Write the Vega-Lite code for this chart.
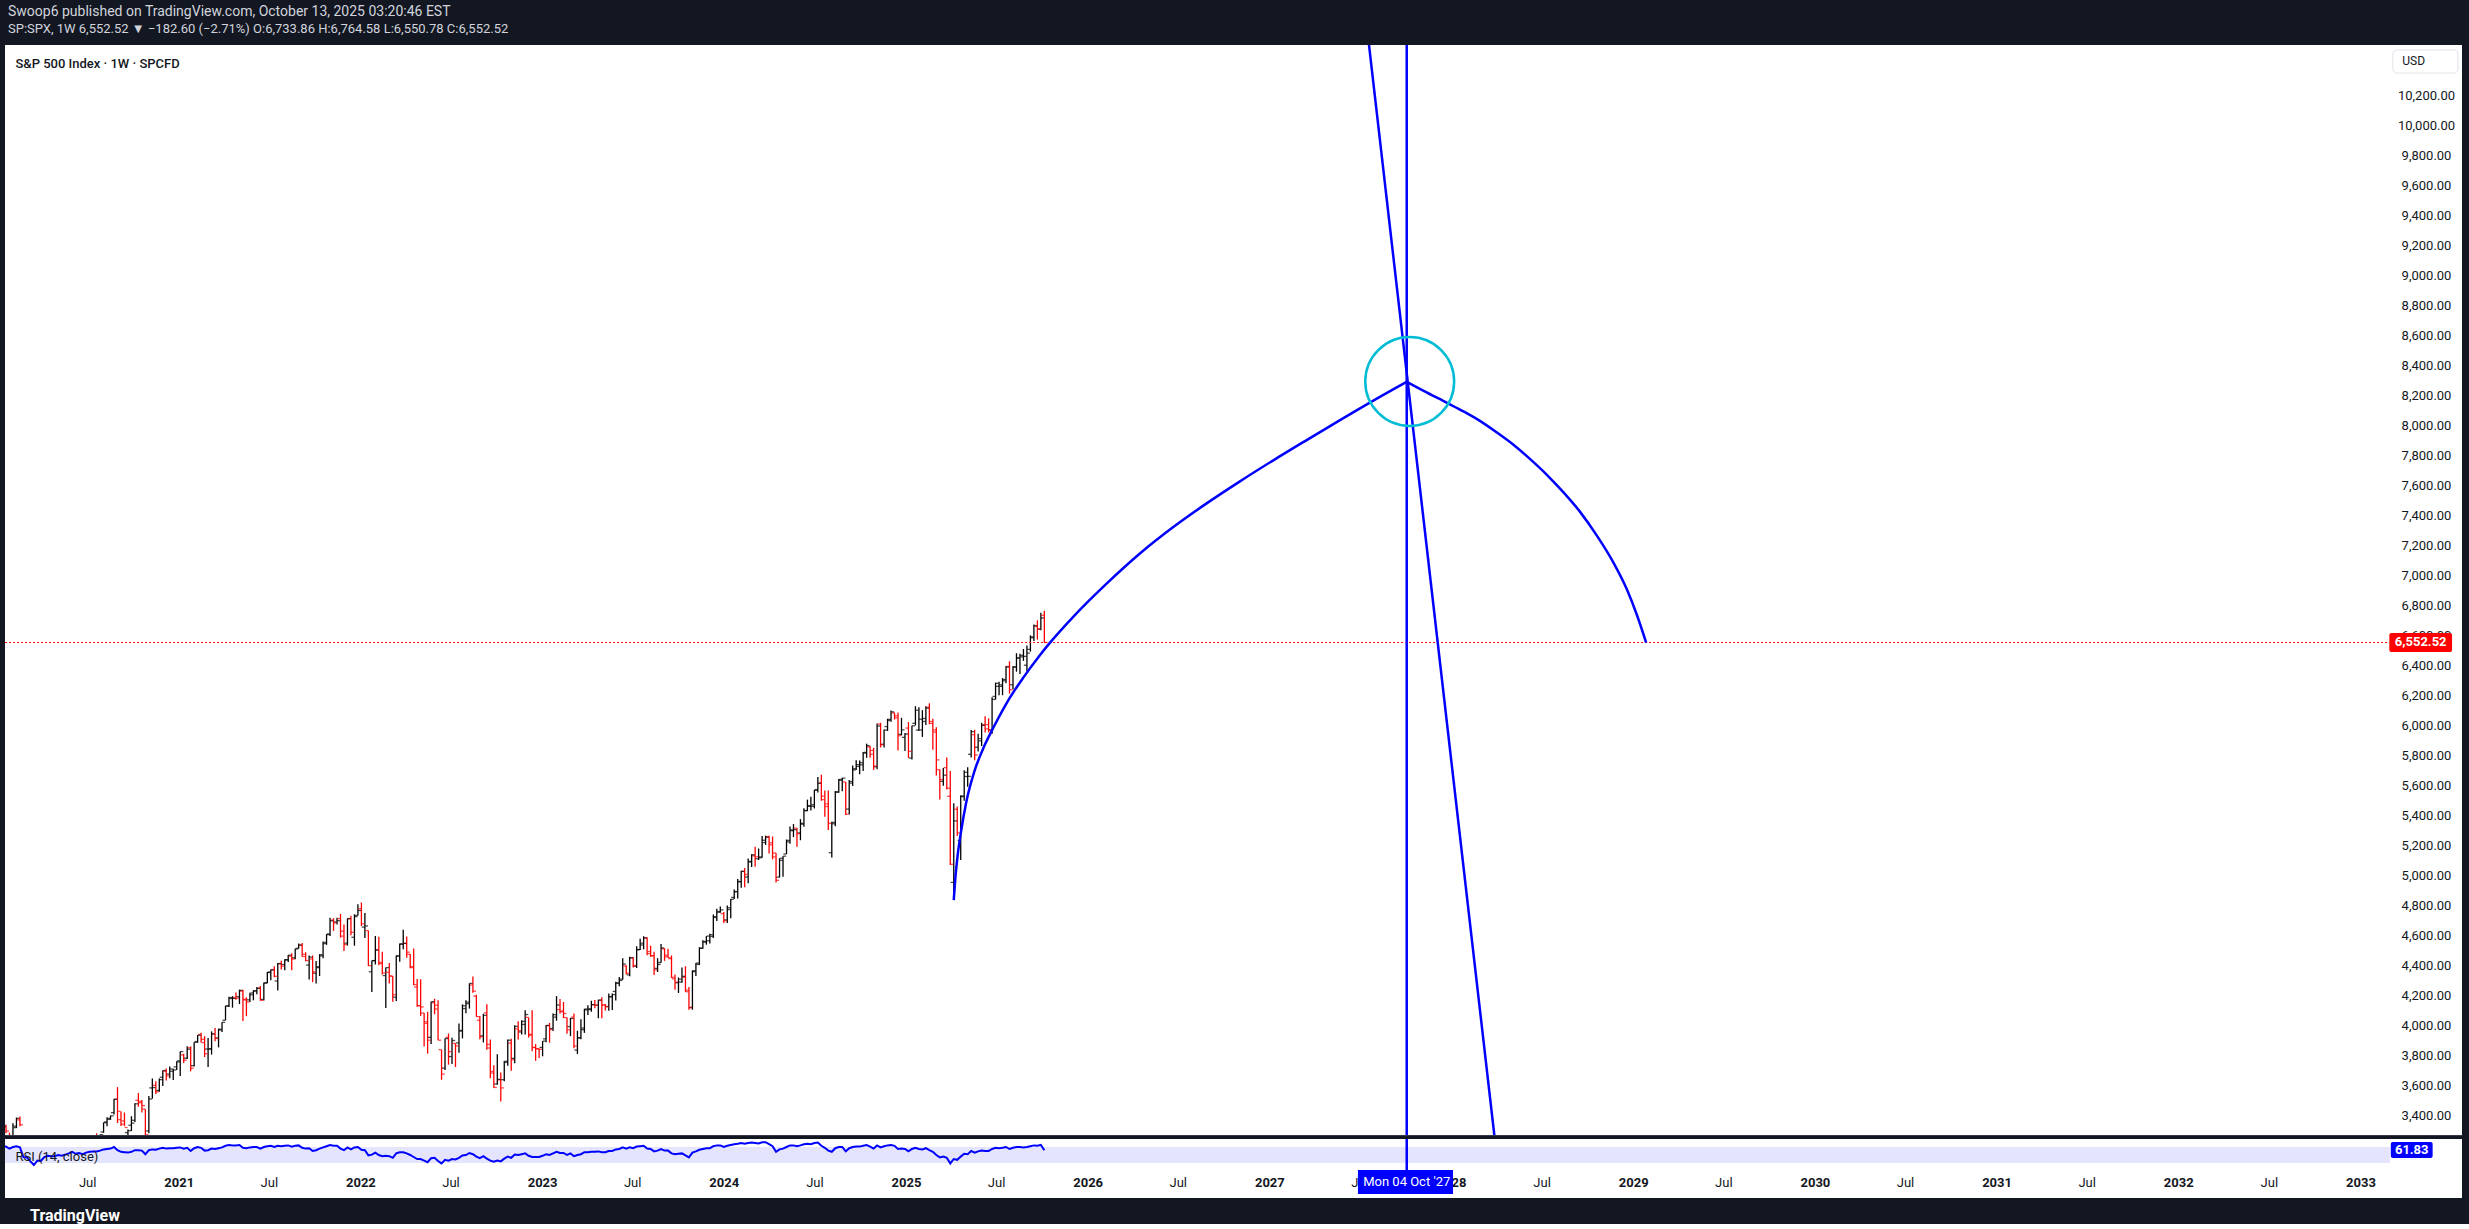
{
"$schema": "https://vega.github.io/schema/vega-lite/v6.json",
"background": "#131722",
"padding": {"left": 5, "right": 7, "top": 4, "bottom": 0},
"spacing": 0,
"title": {"text": "Swoop6 published on TradingView.com, October 13, 2025 03:20:46 EST", "subtitle": "SP:SPX, 1W 6,552.52 ▼ −182.60 (−2.71%) O:6,733.86 H:6,764.58 L:6,550.78 C:6,552.52", "anchor": "start", "frame": "group", "dx": 3, "fontSize": 14, "fontWeight": "normal", "color": "#d1d4dc", "subtitleFontSize": 13, "subtitleColor": "#d1d4dc", "subtitlePadding": 4, "offset": 8},
"datasets": {
"bars": [
{"d":"2020-01-06","o":3217,"h":3267,"l":3181,"c":3265,"r":70},
{"d":"2020-01-13","o":3271,"h":3329,"l":3264,"c":3329,"r":73},
{"d":"2020-01-20","o":3321,"h":3337,"l":3280,"c":3295,"r":71},
{"d":"2020-01-27","o":3248,"h":3285,"l":3214,"c":3225,"r":66},
{"d":"2020-02-03","o":3235,"h":3347,"l":3223,"c":3328,"r":70},
{"d":"2020-02-10","o":3318,"h":3385,"l":3315,"c":3380,"r":72},
{"d":"2020-02-17","o":3370,"h":3393,"l":3328,"c":3337,"r":69},
{"d":"2020-02-24","o":3257,"h":3259,"l":2855,"c":2954,"r":45},
{"d":"2020-03-02","o":2974,"h":3136,"l":2947,"c":2972,"r":44},
{"d":"2020-03-09","o":2863,"h":2882,"l":2478,"c":2711,"r":34},
{"d":"2020-03-16","o":2509,"h":2562,"l":2280,"c":2305,"r":25},
{"d":"2020-03-23","o":2291,"h":2637,"l":2192,"c":2541,"r":36},
{"d":"2020-03-30","o":2498,"h":2641,"l":2447,"c":2489,"r":35},
{"d":"2020-04-06","o":2578,"h":2819,"l":2575,"c":2790,"r":45},
{"d":"2020-04-13","o":2782,"h":2880,"l":2761,"c":2875,"r":48},
{"d":"2020-04-20","o":2846,"h":2868,"l":2727,"c":2837,"r":47},
{"d":"2020-04-27","o":2855,"h":2965,"l":2822,"c":2831,"r":47},
{"d":"2020-05-04","o":2815,"h":2930,"l":2798,"c":2930,"r":50},
{"d":"2020-05-11","o":2939,"h":2945,"l":2766,"c":2864,"r":48},
{"d":"2020-05-18","o":2913,"h":2980,"l":2912,"c":2955,"r":51},
{"d":"2020-05-25","o":3005,"h":3068,"l":2997,"c":3044,"r":54},
{"d":"2020-06-01","o":3038,"h":3211,"l":3031,"c":3194,"r":58},
{"d":"2020-06-08","o":3199,"h":3233,"l":2984,"c":3041,"r":53},
{"d":"2020-06-15","o":2994,"h":3155,"l":2966,"c":3098,"r":55},
{"d":"2020-06-22","o":3094,"h":3155,"l":3004,"c":3009,"r":52},
{"d":"2020-06-29","o":3018,"h":3165,"l":3000,"c":3130,"r":56},
{"d":"2020-07-06","o":3155,"h":3186,"l":3101,"c":3185,"r":58},
{"d":"2020-07-13","o":3205,"h":3236,"l":3127,"c":3225,"r":59},
{"d":"2020-07-20","o":3225,"h":3280,"l":3201,"c":3216,"r":59},
{"d":"2020-07-27","o":3219,"h":3272,"l":3204,"c":3271,"r":61},
{"d":"2020-08-03","o":3289,"h":3352,"l":3284,"c":3351,"r":64},
{"d":"2020-08-10","o":3356,"h":3387,"l":3327,"c":3373,"r":65},
{"d":"2020-08-17","o":3380,"h":3399,"l":3370,"c":3397,"r":66},
{"d":"2020-08-24","o":3418,"h":3509,"l":3405,"c":3508,"r":70},
{"d":"2020-08-31","o":3507,"h":3588,"l":3349,"c":3427,"r":62},
{"d":"2020-09-07","o":3371,"h":3425,"l":3329,"c":3341,"r":58},
{"d":"2020-09-14","o":3363,"h":3419,"l":3328,"c":3319,"r":57},
{"d":"2020-09-21","o":3285,"h":3306,"l":3209,"c":3298,"r":56},
{"d":"2020-09-28","o":3334,"h":3394,"l":3296,"c":3348,"r":58},
{"d":"2020-10-05","o":3367,"h":3480,"l":3355,"c":3477,"r":62},
{"d":"2020-10-12","o":3500,"h":3549,"l":3458,"c":3484,"r":62},
{"d":"2020-10-19","o":3493,"h":3502,"l":3419,"c":3465,"r":61},
{"d":"2020-10-26","o":3441,"h":3441,"l":3234,"c":3270,"r":52},
{"d":"2020-11-02","o":3296,"h":3529,"l":3280,"c":3509,"r":62},
{"d":"2020-11-09","o":3583,"h":3646,"l":3511,"c":3585,"r":64},
{"d":"2020-11-16","o":3600,"h":3628,"l":3543,"c":3557,"r":63},
{"d":"2020-11-23","o":3566,"h":3645,"l":3558,"c":3638,"r":66},
{"d":"2020-11-30","o":3654,"h":3699,"l":3595,"c":3699,"r":68},
{"d":"2020-12-07","o":3694,"h":3712,"l":3633,"c":3663,"r":66},
{"d":"2020-12-14","o":3675,"h":3726,"l":3648,"c":3709,"r":67},
{"d":"2020-12-21","o":3694,"h":3711,"l":3636,"c":3703,"r":67},
{"d":"2020-12-28","o":3723,"h":3760,"l":3703,"c":3756,"r":68},
{"d":"2021-01-04","o":3764,"h":3826,"l":3663,"c":3825,"r":69},
{"d":"2021-01-11","o":3803,"h":3811,"l":3749,"c":3768,"r":66},
{"d":"2021-01-18","o":3781,"h":3861,"l":3775,"c":3841,"r":68},
{"d":"2021-01-25","o":3851,"h":3859,"l":3694,"c":3714,"r":60},
{"d":"2021-02-01","o":3731,"h":3887,"l":3725,"c":3887,"r":67},
{"d":"2021-02-08","o":3892,"h":3935,"l":3884,"c":3934,"r":70},
{"d":"2021-02-15","o":3939,"h":3950,"l":3885,"c":3907,"r":68},
{"d":"2021-02-22","o":3885,"h":3928,"l":3789,"c":3811,"r":61},
{"d":"2021-03-01","o":3842,"h":3915,"l":3723,"c":3842,"r":62},
{"d":"2021-03-08","o":3844,"h":3960,"l":3805,"c":3943,"r":66},
{"d":"2021-03-15","o":3942,"h":3983,"l":3894,"c":3913,"r":65},
{"d":"2021-03-22","o":3916,"h":3978,"l":3853,"c":3974,"r":67},
{"d":"2021-03-29","o":3969,"h":4020,"l":3955,"c":4020,"r":69},
{"d":"2021-04-05","o":4034,"h":4130,"l":4034,"c":4129,"r":73},
{"d":"2021-04-12","o":4130,"h":4191,"l":4123,"c":4185,"r":75},
{"d":"2021-04-19","o":4179,"h":4195,"l":4118,"c":4180,"r":74},
{"d":"2021-04-26","o":4185,"h":4219,"l":4170,"c":4181,"r":74},
{"d":"2021-05-03","o":4191,"h":4238,"l":4142,"c":4233,"r":75},
{"d":"2021-05-10","o":4228,"h":4237,"l":4029,"c":4174,"r":68},
{"d":"2021-05-17","o":4169,"h":4187,"l":4061,"c":4156,"r":67},
{"d":"2021-05-24","o":4170,"h":4218,"l":4155,"c":4204,"r":69},
{"d":"2021-05-31","o":4216,"h":4234,"l":4167,"c":4230,"r":70},
{"d":"2021-06-07","o":4229,"h":4255,"l":4207,"c":4247,"r":70},
{"d":"2021-06-14","o":4248,"h":4262,"l":4164,"c":4166,"r":66},
{"d":"2021-06-21","o":4173,"h":4286,"l":4165,"c":4281,"r":70},
{"d":"2021-06-28","o":4284,"h":4356,"l":4280,"c":4352,"r":72},
{"d":"2021-07-05","o":4356,"h":4372,"l":4300,"c":4369,"r":73},
{"d":"2021-07-12","o":4372,"h":4394,"l":4321,"c":4327,"r":70},
{"d":"2021-07-19","o":4296,"h":4415,"l":4233,"c":4412,"r":73},
{"d":"2021-07-26","o":4410,"h":4430,"l":4372,"c":4395,"r":72},
{"d":"2021-08-02","o":4406,"h":4440,"l":4367,"c":4437,"r":73},
{"d":"2021-08-09","o":4437,"h":4469,"l":4423,"c":4468,"r":74},
{"d":"2021-08-16","o":4461,"h":4480,"l":4367,"c":4442,"r":71},
{"d":"2021-08-23","o":4450,"h":4510,"l":4441,"c":4509,"r":73},
{"d":"2021-08-30","o":4514,"h":4545,"l":4513,"c":4535,"r":74},
{"d":"2021-09-06","o":4535,"h":4549,"l":4458,"c":4459,"r":68},
{"d":"2021-09-13","o":4474,"h":4487,"l":4428,"c":4432,"r":66},
{"d":"2021-09-20","o":4402,"h":4465,"l":4305,"c":4455,"r":67},
{"d":"2021-09-27","o":4442,"h":4466,"l":4288,"c":4357,"r":60},
{"d":"2021-10-04","o":4348,"h":4429,"l":4279,"c":4391,"r":62},
{"d":"2021-10-11","o":4385,"h":4475,"l":4329,"c":4471,"r":66},
{"d":"2021-10-18","o":4463,"h":4559,"l":4448,"c":4545,"r":69},
{"d":"2021-10-25","o":4553,"h":4608,"l":4537,"c":4605,"r":72},
{"d":"2021-11-01","o":4610,"h":4718,"l":4595,"c":4697,"r":75},
{"d":"2021-11-08","o":4702,"h":4714,"l":4630,"c":4683,"r":73},
{"d":"2021-11-15","o":4689,"h":4718,"l":4672,"c":4698,"r":73},
{"d":"2021-11-22","o":4712,"h":4743,"l":4585,"c":4595,"r":66},
{"d":"2021-11-29","o":4628,"h":4672,"l":4495,"c":4538,"r":62},
{"d":"2021-12-06","o":4548,"h":4713,"l":4532,"c":4712,"r":69},
{"d":"2021-12-13","o":4710,"h":4731,"l":4600,"c":4620,"r":64},
{"d":"2021-12-20","o":4587,"h":4740,"l":4531,"c":4725,"r":69},
{"d":"2021-12-27","o":4733,"h":4808,"l":4733,"c":4766,"r":70},
{"d":"2022-01-03","o":4778,"h":4819,"l":4662,"c":4677,"r":63},
{"d":"2022-01-10","o":4655,"h":4749,"l":4582,"c":4663,"r":62},
{"d":"2022-01-17","o":4632,"h":4632,"l":4395,"c":4398,"r":49},
{"d":"2022-01-24","o":4357,"h":4432,"l":4223,"c":4432,"r":51},
{"d":"2022-01-31","o":4431,"h":4595,"l":4405,"c":4501,"r":56},
{"d":"2022-02-07","o":4505,"h":4590,"l":4401,"c":4419,"r":50},
{"d":"2022-02-14","o":4412,"h":4490,"l":4339,"c":4349,"r":47},
{"d":"2022-02-21","o":4332,"h":4385,"l":4115,"c":4385,"r":48},
{"d":"2022-02-28","o":4354,"h":4416,"l":4279,"c":4329,"r":47},
{"d":"2022-03-07","o":4328,"h":4329,"l":4157,"c":4204,"r":43},
{"d":"2022-03-14","o":4188,"h":4465,"l":4162,"c":4463,"r":54},
{"d":"2022-03-21","o":4462,"h":4546,"l":4424,"c":4543,"r":57},
{"d":"2022-03-28","o":4541,"h":4637,"l":4507,"c":4546,"r":57},
{"d":"2022-04-04","o":4547,"h":4593,"l":4450,"c":4488,"r":54},
{"d":"2022-04-11","o":4474,"h":4475,"l":4381,"c":4392,"r":50},
{"d":"2022-04-18","o":4385,"h":4512,"l":4267,"c":4272,"r":45},
{"d":"2022-04-25","o":4256,"h":4309,"l":4124,"c":4132,"r":40},
{"d":"2022-05-02","o":4131,"h":4307,"l":4063,"c":4123,"r":40},
{"d":"2022-05-09","o":4082,"h":4082,"l":3859,"c":4024,"r":36},
{"d":"2022-05-16","o":4013,"h":4090,"l":3811,"c":3901,"r":32},
{"d":"2022-05-23","o":3920,"h":4158,"l":3875,"c":4158,"r":42},
{"d":"2022-05-30","o":4151,"h":4177,"l":4074,"c":4109,"r":43},
{"d":"2022-06-06","o":4134,"h":4168,"l":3900,"c":3901,"r":35},
{"d":"2022-06-13","o":3838,"h":3838,"l":3637,"c":3675,"r":29},
{"d":"2022-06-20","o":3715,"h":3913,"l":3703,"c":3912,"r":38},
{"d":"2022-06-27","o":3920,"h":3946,"l":3738,"c":3825,"r":36},
{"d":"2022-07-04","o":3792,"h":3918,"l":3743,"c":3899,"r":40},
{"d":"2022-07-11","o":3880,"h":3880,"l":3722,"c":3863,"r":39},
{"d":"2022-07-18","o":3883,"h":4012,"l":3818,"c":3962,"r":43},
{"d":"2022-07-25","o":3966,"h":4140,"l":3913,"c":4130,"r":49},
{"d":"2022-08-01","o":4112,"h":4167,"l":4080,"c":4145,"r":50},
{"d":"2022-08-08","o":4155,"h":4280,"l":4112,"c":4280,"r":55},
{"d":"2022-08-15","o":4269,"h":4325,"l":4218,"c":4228,"r":52},
{"d":"2022-08-22","o":4195,"h":4204,"l":4057,"c":4058,"r":46},
{"d":"2022-08-29","o":4034,"h":4062,"l":3907,"c":3924,"r":42},
{"d":"2022-09-05","o":3930,"h":4077,"l":3886,"c":4067,"r":47},
{"d":"2022-09-12","o":4083,"h":4140,"l":3837,"c":3873,"r":41},
{"d":"2022-09-19","o":3849,"h":3906,"l":3647,"c":3693,"r":36},
{"d":"2022-09-26","o":3682,"h":3734,"l":3584,"c":3586,"r":33},
{"d":"2022-10-03","o":3609,"h":3807,"l":3604,"c":3640,"r":36},
{"d":"2022-10-10","o":3636,"h":3686,"l":3492,"c":3583,"r":34},
{"d":"2022-10-17","o":3638,"h":3762,"l":3627,"c":3753,"r":41},
{"d":"2022-10-24","o":3761,"h":3905,"l":3730,"c":3901,"r":46},
{"d":"2022-10-31","o":3882,"h":3911,"l":3698,"c":3771,"r":43},
{"d":"2022-11-07","o":3780,"h":4001,"l":3748,"c":3993,"r":51},
{"d":"2022-11-14","o":3977,"h":4028,"l":3906,"c":3965,"r":50},
{"d":"2022-11-21","o":3956,"h":4034,"l":3939,"c":4026,"r":52},
{"d":"2022-11-28","o":4006,"h":4101,"l":3939,"c":4072,"r":54},
{"d":"2022-12-05","o":4053,"h":4053,"l":3919,"c":3934,"r":48},
{"d":"2022-12-12","o":3940,"h":4101,"l":3827,"c":3852,"r":45},
{"d":"2022-12-19","o":3853,"h":3876,"l":3764,"c":3845,"r":45},
{"d":"2022-12-26","o":3843,"h":3846,"l":3783,"c":3840,"r":45},
{"d":"2023-01-02","o":3853,"h":3895,"l":3794,"c":3895,"r":48},
{"d":"2023-01-09","o":3910,"h":4003,"l":3888,"c":3999,"r":52},
{"d":"2023-01-16","o":3999,"h":4016,"l":3885,"c":3972,"r":50},
{"d":"2023-01-23","o":3979,"h":4079,"l":3963,"c":4071,"r":54},
{"d":"2023-01-30","o":4055,"h":4195,"l":4031,"c":4136,"r":58},
{"d":"2023-02-06","o":4105,"h":4176,"l":4079,"c":4090,"r":55},
{"d":"2023-02-13","o":4096,"h":4156,"l":4048,"c":4079,"r":55},
{"d":"2023-02-20","o":4052,"h":4053,"l":3944,"c":3970,"r":50},
{"d":"2023-02-27","o":3992,"h":4049,"l":3928,"c":4046,"r":54},
{"d":"2023-03-06","o":4055,"h":4079,"l":3847,"c":3862,"r":47},
{"d":"2023-03-13","o":3835,"h":3964,"l":3809,"c":3917,"r":50},
{"d":"2023-03-20","o":3917,"h":4040,"l":3908,"c":3971,"r":52},
{"d":"2023-03-27","o":3982,"h":4110,"l":3950,"c":4109,"r":57},
{"d":"2023-04-03","o":4103,"h":4134,"l":4069,"c":4105,"r":57},
{"d":"2023-04-10","o":4111,"h":4164,"l":4091,"c":4138,"r":58},
{"d":"2023-04-17","o":4137,"h":4169,"l":4114,"c":4134,"r":58},
{"d":"2023-04-24","o":4135,"h":4170,"l":4048,"c":4169,"r":59},
{"d":"2023-05-01","o":4166,"h":4187,"l":4048,"c":4136,"r":57},
{"d":"2023-05-08","o":4136,"h":4143,"l":4099,"c":4124,"r":57},
{"d":"2023-05-15","o":4126,"h":4212,"l":4098,"c":4192,"r":60},
{"d":"2023-05-22","o":4190,"h":4212,"l":4103,"c":4205,"r":60},
{"d":"2023-05-29","o":4226,"h":4291,"l":4166,"c":4282,"r":64},
{"d":"2023-06-05","o":4282,"h":4322,"l":4260,"c":4299,"r":65},
{"d":"2023-06-12","o":4308,"h":4448,"l":4304,"c":4409,"r":69},
{"d":"2023-06-19","o":4396,"h":4400,"l":4341,"c":4348,"r":66},
{"d":"2023-06-26","o":4337,"h":4458,"l":4328,"c":4450,"r":69},
{"d":"2023-07-03","o":4450,"h":4456,"l":4385,"c":4399,"r":67},
{"d":"2023-07-10","o":4394,"h":4528,"l":4383,"c":4505,"r":71},
{"d":"2023-07-17","o":4505,"h":4578,"l":4503,"c":4536,"r":72},
{"d":"2023-07-24","o":4548,"h":4594,"l":4507,"c":4582,"r":73},
{"d":"2023-07-31","o":4584,"h":4588,"l":4467,"c":4478,"r":66},
{"d":"2023-08-07","o":4492,"h":4531,"l":4457,"c":4464,"r":65},
{"d":"2023-08-14","o":4464,"h":4491,"l":4335,"c":4370,"r":59},
{"d":"2023-08-21","o":4380,"h":4448,"l":4356,"c":4406,"r":61},
{"d":"2023-08-28","o":4419,"h":4542,"l":4418,"c":4516,"r":65},
{"d":"2023-09-04","o":4510,"h":4514,"l":4430,"c":4457,"r":61},
{"d":"2023-09-11","o":4468,"h":4511,"l":4449,"c":4450,"r":61},
{"d":"2023-09-18","o":4445,"h":4466,"l":4316,"c":4320,"r":54},
{"d":"2023-09-25","o":4310,"h":4339,"l":4238,"c":4288,"r":52},
{"d":"2023-10-02","o":4284,"h":4319,"l":4216,"c":4308,"r":53},
{"d":"2023-10-09","o":4289,"h":4385,"l":4284,"c":4327,"r":54},
{"d":"2023-10-16","o":4320,"h":4394,"l":4223,"c":4224,"r":49},
{"d":"2023-10-23","o":4235,"h":4256,"l":4104,"c":4117,"r":44},
{"d":"2023-10-30","o":4120,"h":4367,"l":4104,"c":4358,"r":56},
{"d":"2023-11-06","o":4364,"h":4415,"l":4329,"c":4415,"r":59},
{"d":"2023-11-13","o":4406,"h":4521,"l":4403,"c":4514,"r":63},
{"d":"2023-11-20","o":4514,"h":4568,"l":4510,"c":4559,"r":65},
{"d":"2023-11-27","o":4555,"h":4595,"l":4538,"c":4595,"r":67},
{"d":"2023-12-04","o":4564,"h":4610,"l":4546,"c":4604,"r":67},
{"d":"2023-12-11","o":4593,"h":4739,"l":4582,"c":4719,"r":72},
{"d":"2023-12-18","o":4725,"h":4778,"l":4696,"c":4754,"r":74},
{"d":"2023-12-25","o":4759,"h":4793,"l":4751,"c":4770,"r":74},
{"d":"2024-01-01","o":4745,"h":4755,"l":4682,"c":4697,"r":70},
{"d":"2024-01-08","o":4703,"h":4799,"l":4682,"c":4784,"r":73},
{"d":"2024-01-15","o":4772,"h":4842,"l":4714,"c":4840,"r":75},
{"d":"2024-01-22","o":4853,"h":4906,"l":4842,"c":4891,"r":77},
{"d":"2024-01-29","o":4892,"h":4975,"l":4845,"c":4959,"r":78},
{"d":"2024-02-05","o":4957,"h":5030,"l":4918,"c":5027,"r":80},
{"d":"2024-02-12","o":5026,"h":5049,"l":4920,"c":5006,"r":78},
{"d":"2024-02-19","o":4989,"h":5112,"l":4947,"c":5089,"r":80},
{"d":"2024-02-26","o":5093,"h":5141,"l":5056,"c":5137,"r":81},
{"d":"2024-03-04","o":5130,"h":5190,"l":5057,"c":5124,"r":80},
{"d":"2024-03-11","o":5111,"h":5179,"l":5102,"c":5117,"r":79},
{"d":"2024-03-18","o":5123,"h":5262,"l":5117,"c":5234,"r":82},
{"d":"2024-03-25","o":5219,"h":5265,"l":5203,"c":5254,"r":82},
{"d":"2024-04-01","o":5258,"h":5264,"l":5146,"c":5204,"r":77},
{"d":"2024-04-08","o":5217,"h":5259,"l":5107,"c":5123,"r":72},
{"d":"2024-04-15","o":5149,"h":5149,"l":4953,"c":4967,"r":58},
{"d":"2024-04-22","o":4988,"h":5114,"l":4986,"c":5100,"r":64},
{"d":"2024-04-29","o":5114,"h":5128,"l":4990,"c":5128,"r":66},
{"d":"2024-05-06","o":5142,"h":5239,"l":5142,"c":5223,"r":70},
{"d":"2024-05-13","o":5233,"h":5325,"l":5211,"c":5303,"r":74},
{"d":"2024-05-20","o":5298,"h":5342,"l":5256,"c":5305,"r":74},
{"d":"2024-05-27","o":5315,"h":5315,"l":5191,"c":5278,"r":72},
{"d":"2024-06-03","o":5283,"h":5375,"l":5234,"c":5347,"r":74},
{"d":"2024-06-10","o":5341,"h":5447,"l":5324,"c":5432,"r":77},
{"d":"2024-06-17","o":5432,"h":5505,"l":5428,"c":5465,"r":78},
{"d":"2024-06-24","o":5460,"h":5524,"l":5433,"c":5460,"r":77},
{"d":"2024-07-01","o":5471,"h":5570,"l":5446,"c":5567,"r":80},
{"d":"2024-07-08","o":5572,"h":5655,"l":5552,"c":5615,"r":81},
{"d":"2024-07-15","o":5614,"h":5670,"l":5497,"c":5505,"r":73},
{"d":"2024-07-22","o":5528,"h":5566,"l":5390,"c":5459,"r":68},
{"d":"2024-07-29","o":5476,"h":5566,"l":5302,"c":5347,"r":61},
{"d":"2024-08-05","o":5151,"h":5358,"l":5119,"c":5344,"r":58},
{"d":"2024-08-12","o":5353,"h":5563,"l":5328,"c":5554,"r":67},
{"d":"2024-08-19","o":5557,"h":5643,"l":5550,"c":5634,"r":70},
{"d":"2024-08-26","o":5640,"h":5651,"l":5560,"c":5648,"r":70},
{"d":"2024-09-02","o":5623,"h":5623,"l":5402,"c":5408,"r":59},
{"d":"2024-09-09","o":5442,"h":5636,"l":5406,"c":5626,"r":67},
{"d":"2024-09-16","o":5615,"h":5733,"l":5596,"c":5703,"r":70},
{"d":"2024-09-23","o":5711,"h":5767,"l":5702,"c":5738,"r":71},
{"d":"2024-09-30","o":5726,"h":5765,"l":5674,"c":5751,"r":71},
{"d":"2024-10-07","o":5737,"h":5822,"l":5695,"c":5815,"r":73},
{"d":"2024-10-14","o":5820,"h":5878,"l":5784,"c":5865,"r":75},
{"d":"2024-10-21","o":5857,"h":5863,"l":5784,"c":5808,"r":71},
{"d":"2024-10-28","o":5833,"h":5850,"l":5703,"c":5729,"r":66},
{"d":"2024-11-04","o":5724,"h":6012,"l":5707,"c":5996,"r":74},
{"d":"2024-11-11","o":6009,"h":6017,"l":5853,"c":5871,"r":69},
{"d":"2024-11-18","o":5874,"h":5972,"l":5853,"c":5969,"r":72},
{"d":"2024-11-25","o":5992,"h":6044,"l":5963,"c":6032,"r":74},
{"d":"2024-12-02","o":6040,"h":6099,"l":6024,"c":6090,"r":75},
{"d":"2024-12-09","o":6083,"h":6085,"l":6039,"c":6051,"r":73},
{"d":"2024-12-16","o":6064,"h":6085,"l":5832,"c":5931,"r":65},
{"d":"2024-12-23","o":5940,"h":6050,"l":5933,"c":5970,"r":66},
{"d":"2024-12-30","o":5920,"h":5949,"l":5829,"c":5942,"r":65},
{"d":"2025-01-06","o":5982,"h":6022,"l":5783,"c":5827,"r":59},
{"d":"2025-01-13","o":5782,"h":5997,"l":5773,"c":5997,"r":65},
{"d":"2025-01-20","o":6014,"h":6128,"l":6000,"c":6101,"r":68},
{"d":"2025-01-27","o":5969,"h":6120,"l":5962,"c":6041,"r":65},
{"d":"2025-02-03","o":5969,"h":6101,"l":5923,"c":6026,"r":64},
{"d":"2025-02-10","o":6046,"h":6128,"l":6003,"c":6115,"r":67},
{"d":"2025-02-17","o":6121,"h":6147,"l":6008,"c":6013,"r":62},
{"d":"2025-02-24","o":6026,"h":6044,"l":5837,"c":5955,"r":58},
{"d":"2025-03-03","o":5969,"h":5987,"l":5666,"c":5770,"r":50},
{"d":"2025-03-10","o":5705,"h":5705,"l":5505,"c":5639,"r":44},
{"d":"2025-03-17","o":5627,"h":5715,"l":5597,"c":5668,"r":46},
{"d":"2025-03-24","o":5718,"h":5786,"l":5572,"c":5581,"r":43},
{"d":"2025-03-31","o":5527,"h":5695,"l":5069,"c":5074,"r":29},
{"d":"2025-04-07","o":4953,"h":5481,"l":4835,"c":5363,"r":40},
{"d":"2025-04-14","o":5441,"h":5459,"l":5262,"c":5283,"r":38},
{"d":"2025-04-21","o":5232,"h":5534,"l":5102,"c":5525,"r":46},
{"d":"2025-04-28","o":5529,"h":5700,"l":5497,"c":5687,"r":53},
{"d":"2025-05-05","o":5659,"h":5720,"l":5590,"c":5660,"r":52},
{"d":"2025-05-12","o":5807,"h":5969,"l":5786,"c":5958,"r":60},
{"d":"2025-05-19","o":5938,"h":5970,"l":5767,"c":5803,"r":56},
{"d":"2025-05-26","o":5854,"h":5944,"l":5825,"c":5912,"r":59},
{"d":"2025-06-02","o":5897,"h":6017,"l":5862,"c":6000,"r":61},
{"d":"2025-06-09","o":6005,"h":6060,"l":5953,"c":5977,"r":60},
{"d":"2025-06-16","o":6005,"h":6047,"l":5953,"c":5968,"r":60},
{"d":"2025-06-23","o":5970,"h":6188,"l":5944,"c":6173,"r":65},
{"d":"2025-06-30","o":6193,"h":6285,"l":6172,"c":6280,"r":68},
{"d":"2025-07-07","o":6260,"h":6290,"l":6201,"c":6260,"r":67},
{"d":"2025-07-14","o":6270,"h":6315,"l":6201,"c":6297,"r":68},
{"d":"2025-07-21","o":6306,"h":6395,"l":6280,"c":6389,"r":70},
{"d":"2025-07-28","o":6393,"h":6427,"l":6212,"c":6238,"r":65},
{"d":"2025-08-04","o":6271,"h":6395,"l":6240,"c":6389,"r":68},
{"d":"2025-08-11","o":6389,"h":6481,"l":6358,"c":6450,"r":70},
{"d":"2025-08-18","o":6449,"h":6478,"l":6343,"c":6467,"r":70},
{"d":"2025-08-25","o":6457,"h":6509,"l":6430,"c":6460,"r":69},
{"d":"2025-09-01","o":6401,"h":6532,"l":6361,"c":6482,"r":70},
{"d":"2025-09-08","o":6506,"h":6600,"l":6492,"c":6584,"r":72},
{"d":"2025-09-15","o":6590,"h":6672,"l":6563,"c":6664,"r":74},
{"d":"2025-09-22","o":6660,"h":6700,"l":6572,"c":6644,"r":73},
{"d":"2025-09-29","o":6641,"h":6750,"l":6634,"c":6716,"r":75},
{"d":"2025-10-06","o":6733.86,"h":6764.58,"l":6550.78,"c":6552.52,"r":61.83}
],
"arc": [
{"seg":"L","d":"2025-04-07","v":4835},
{"seg":"L","d":"2025-04-10","v":4973},
{"seg":"L","d":"2025-04-15","v":5138},
{"seg":"L","d":"2025-04-22","v":5299},
{"seg":"L","d":"2025-05-02","v":5486},
{"seg":"L","d":"2025-05-19","v":5699},
{"seg":"L","d":"2025-06-08","v":5867},
{"seg":"L","d":"2025-06-27","v":5994},
{"seg":"L","d":"2025-07-22","v":6147},
{"seg":"L","d":"2025-08-24","v":6315},
{"seg":"L","d":"2025-09-27","v":6468},
{"seg":"L","d":"2025-10-17","v":6550},
{"seg":"L","d":"2025-12-03","v":6724},
{"seg":"L","d":"2026-02-08","v":6945},
{"seg":"L","d":"2026-04-16","v":7146},
{"seg":"L","d":"2026-06-22","v":7322},
{"seg":"L","d":"2026-08-28","v":7480},
{"seg":"L","d":"2026-11-03","v":7627},
{"seg":"L","d":"2027-01-09","v":7767},
{"seg":"L","d":"2027-03-17","v":7902},
{"seg":"L","d":"2027-05-23","v":8035},
{"seg":"L","d":"2027-07-29","v":8165},
{"seg":"L","d":"2027-10-04","v":8290},
{"seg":"R","d":"2027-10-04","v":8290},
{"seg":"R","d":"2027-11-07","v":8230},
{"seg":"R","d":"2027-12-24","v":8150},
{"seg":"R","d":"2028-01-26","v":8093},
{"seg":"R","d":"2028-02-28","v":8030},
{"seg":"R","d":"2028-04-01","v":7955},
{"seg":"R","d":"2028-05-06","v":7869},
{"seg":"R","d":"2028-06-08","v":7775},
{"seg":"R","d":"2028-07-12","v":7669},
{"seg":"R","d":"2028-08-14","v":7553},
{"seg":"R","d":"2028-09-17","v":7420},
{"seg":"R","d":"2028-10-20","v":7265},
{"seg":"R","d":"2028-11-22","v":7087},
{"seg":"R","d":"2028-12-19","v":6909},
{"seg":"R","d":"2029-01-09","v":6731},
{"seg":"R","d":"2029-01-27","v":6552}
],
"steep": [
{"d":"2027-07-15","v":10687},
{"d":"2028-04-01","v":3153}
],
"marker": [{"d":"2027-10-04"}],
"circle": [{"d":"2027-10-10","v":8293}]
},
"vconcat": [
{
"width": 2457,
"height": 1090,
"layer": [
{"data": {"name": "bars"}, "mark": {"type": "rule", "strokeWidth": 1.3, "clip": true},
 "encoding": {
  "x": {"field": "d", "type": "temporal", "scale": {"type": "utc", "domain": [1579305600000, 2005776000000]}, "axis": {"orient": "bottom", "labels": false, "ticks": false, "grid": false, "domain": true, "domainColor": "#363a45", "title": null}},
  "y": {"field": "l", "type": "quantitative", "scale": {"domain": [3269, 10536], "nice": false, "zero": false}, "axis": {"orient": "right", "values": [3400,3600,3800,4000,4200,4400,4600,4800,5000,5200,5400,5600,5800,6000,6200,6400,6600,6800,7000,7200,7400,7600,7800,8000,8200,8400,8600,8800,9000,9200,9400,9600,9800,10000,10200], "format": ",.2f", "labelAlign": "center", "labelPadding": -36, "ticks": false, "domain": false, "grid": false, "title": null, "labelColor": "#131722", "labelFontSize": 13, "labelOverlap": false, "labelBound": false, "labelFlush": false}},
  "y2": {"field": "h"},
  "color": {"condition": {"test": "datum.c < datum.o", "value": "#ff0000"}, "value": "#000000"}
 }},
{"data": {"name": "bars"}, "mark": {"type": "tick", "orient": "horizontal", "size": 3, "thickness": 1.3, "xOffset": -1.6, "clip": true},
 "encoding": {
  "x": {"field": "d", "type": "temporal", "scale": {"type": "utc", "domain": [1579305600000, 2005776000000]}, "axis": {"orient": "bottom", "labels": false, "ticks": false, "grid": false, "domain": true, "domainColor": "#363a45", "title": null}},
  "y": {"field": "o", "type": "quantitative", "scale": {"domain": [3269, 10536], "nice": false, "zero": false}, "axis": {"orient": "right", "values": [3400,3600,3800,4000,4200,4400,4600,4800,5000,5200,5400,5600,5800,6000,6200,6400,6600,6800,7000,7200,7400,7600,7800,8000,8200,8400,8600,8800,9000,9200,9400,9600,9800,10000,10200], "format": ",.2f", "labelAlign": "center", "labelPadding": -36, "ticks": false, "domain": false, "grid": false, "title": null, "labelColor": "#131722", "labelFontSize": 13, "labelOverlap": false, "labelBound": false, "labelFlush": false}},
  "color": {"condition": {"test": "datum.c < datum.o", "value": "#ff0000"}, "value": "#000000"}
 }},
{"data": {"name": "bars"}, "mark": {"type": "tick", "orient": "horizontal", "size": 3, "thickness": 1.3, "xOffset": 1.6, "clip": true},
 "encoding": {
  "x": {"field": "d", "type": "temporal", "scale": {"type": "utc", "domain": [1579305600000, 2005776000000]}, "axis": {"orient": "bottom", "labels": false, "ticks": false, "grid": false, "domain": true, "domainColor": "#363a45", "title": null}},
  "y": {"field": "c", "type": "quantitative", "scale": {"domain": [3269, 10536], "nice": false, "zero": false}, "axis": {"orient": "right", "values": [3400,3600,3800,4000,4200,4400,4600,4800,5000,5200,5400,5600,5800,6000,6200,6400,6600,6800,7000,7200,7400,7600,7800,8000,8200,8400,8600,8800,9000,9200,9400,9600,9800,10000,10200], "format": ",.2f", "labelAlign": "center", "labelPadding": -36, "ticks": false, "domain": false, "grid": false, "title": null, "labelColor": "#131722", "labelFontSize": 13, "labelOverlap": false, "labelBound": false, "labelFlush": false}},
  "color": {"condition": {"test": "datum.c < datum.o", "value": "#ff0000"}, "value": "#000000"}
 }},
{"data": {"values": [{}]}, "mark": {"type": "rule", "color": "#ff0000", "strokeWidth": 1, "strokeDash": [2, 2], "clip": true},
 "encoding": {
  "x": {"datum": {"year": 2019, "month": 12, "date": 1, "utc": true}, "type": "temporal", "scale": {"type": "utc", "domain": [1579305600000, 2005776000000]}, "axis": {"orient": "bottom", "labels": false, "ticks": false, "grid": false, "domain": true, "domainColor": "#363a45", "title": null}},
  "x2": {"datum": {"year": 2033, "month": 2, "date": 28, "utc": true}},
  "y": {"datum": 6552.52, "type": "quantitative", "scale": {"domain": [3269, 10536], "nice": false, "zero": false}, "axis": {"orient": "right", "values": [3400,3600,3800,4000,4200,4400,4600,4800,5000,5200,5400,5600,5800,6000,6200,6400,6600,6800,7000,7200,7400,7600,7800,8000,8200,8400,8600,8800,9000,9200,9400,9600,9800,10000,10200], "format": ",.2f", "labelAlign": "center", "labelPadding": -36, "ticks": false, "domain": false, "grid": false, "title": null, "labelColor": "#131722", "labelFontSize": 13, "labelOverlap": false, "labelBound": false, "labelFlush": false}}
 }},
{"data": {"name": "arc"}, "mark": {"type": "line", "interpolate": "monotone", "color": "#0000ff", "strokeWidth": 2.5, "clip": true},
 "encoding": {
  "x": {"field": "d", "type": "temporal", "scale": {"type": "utc", "domain": [1579305600000, 2005776000000]}, "axis": {"orient": "bottom", "labels": false, "ticks": false, "grid": false, "domain": true, "domainColor": "#363a45", "title": null}},
  "y": {"field": "v", "type": "quantitative", "scale": {"domain": [3269, 10536], "nice": false, "zero": false}, "axis": {"orient": "right", "values": [3400,3600,3800,4000,4200,4400,4600,4800,5000,5200,5400,5600,5800,6000,6200,6400,6600,6800,7000,7200,7400,7600,7800,8000,8200,8400,8600,8800,9000,9200,9400,9600,9800,10000,10200], "format": ",.2f", "labelAlign": "center", "labelPadding": -36, "ticks": false, "domain": false, "grid": false, "title": null, "labelColor": "#131722", "labelFontSize": 13, "labelOverlap": false, "labelBound": false, "labelFlush": false}},
  "detail": {"field": "seg"}
 }},
{"data": {"name": "steep"}, "mark": {"type": "line", "color": "#0000ff", "strokeWidth": 2.5, "clip": true},
 "encoding": {
  "x": {"field": "d", "type": "temporal", "scale": {"type": "utc", "domain": [1579305600000, 2005776000000]}, "axis": {"orient": "bottom", "labels": false, "ticks": false, "grid": false, "domain": true, "domainColor": "#363a45", "title": null}},
  "y": {"field": "v", "type": "quantitative", "scale": {"domain": [3269, 10536], "nice": false, "zero": false}, "axis": {"orient": "right", "values": [3400,3600,3800,4000,4200,4400,4600,4800,5000,5200,5400,5600,5800,6000,6200,6400,6600,6800,7000,7200,7400,7600,7800,8000,8200,8400,8600,8800,9000,9200,9400,9600,9800,10000,10200], "format": ",.2f", "labelAlign": "center", "labelPadding": -36, "ticks": false, "domain": false, "grid": false, "title": null, "labelColor": "#131722", "labelFontSize": 13, "labelOverlap": false, "labelBound": false, "labelFlush": false}}
 }},
{"data": {"name": "marker"}, "mark": {"type": "rule", "color": "#0000ff", "strokeWidth": 2.5},
 "encoding": {
  "x": {"field": "d", "type": "temporal", "scale": {"type": "utc", "domain": [1579305600000, 2005776000000]}, "axis": {"orient": "bottom", "labels": false, "ticks": false, "grid": false, "domain": true, "domainColor": "#363a45", "title": null}}
 }},
{"data": {"name": "circle"}, "mark": {"type": "point", "shape": "circle", "filled": false, "size": 7900, "color": "#00bcd4", "strokeWidth": 2.5, "opacity": 1},
 "encoding": {
  "x": {"field": "d", "type": "temporal", "scale": {"type": "utc", "domain": [1579305600000, 2005776000000]}, "axis": {"orient": "bottom", "labels": false, "ticks": false, "grid": false, "domain": true, "domainColor": "#363a45", "title": null}},
  "y": {"field": "v", "type": "quantitative", "scale": {"domain": [3269, 10536], "nice": false, "zero": false}, "axis": {"orient": "right", "values": [3400,3600,3800,4000,4200,4400,4600,4800,5000,5200,5400,5600,5800,6000,6200,6400,6600,6800,7000,7200,7400,7600,7800,8000,8200,8400,8600,8800,9000,9200,9400,9600,9800,10000,10200], "format": ",.2f", "labelAlign": "center", "labelPadding": -36, "ticks": false, "domain": false, "grid": false, "title": null, "labelColor": "#131722", "labelFontSize": 13, "labelOverlap": false, "labelBound": false, "labelFlush": false}}
 }},
{"data": {"values": [{}]}, "mark": {"type": "text", "text": "S&P 500 Index · 1W · SPCFD", "align": "left", "baseline": "middle", "fontSize": 13, "fontWeight": 500, "color": "#131722"},
 "encoding": {
  "x": {"datum": {"year": 2020, "month": 2, "date": 8, "utc": true}, "type": "temporal", "scale": {"type": "utc", "domain": [1579305600000, 2005776000000]}, "axis": {"orient": "bottom", "labels": false, "ticks": false, "grid": false, "domain": true, "domainColor": "#363a45", "title": null}},
  "y": {"datum": 10409, "type": "quantitative", "scale": {"domain": [3269, 10536], "nice": false, "zero": false}, "axis": {"orient": "right", "values": [3400,3600,3800,4000,4200,4400,4600,4800,5000,5200,5400,5600,5800,6000,6200,6400,6600,6800,7000,7200,7400,7600,7800,8000,8200,8400,8600,8800,9000,9200,9400,9600,9800,10000,10200], "format": ",.2f", "labelAlign": "center", "labelPadding": -36, "ticks": false, "domain": false, "grid": false, "title": null, "labelColor": "#131722", "labelFontSize": 13, "labelOverlap": false, "labelBound": false, "labelFlush": false}}
 }},
{"data": {"values": [{}]}, "mark": {"type": "rect", "fill": "#ffffff", "stroke": "#e0e3eb", "strokeWidth": 1, "cornerRadius": 4},
 "encoding": {
  "x": {"datum": {"year": 2033, "month": 3, "date": 7, "utc": true}, "type": "temporal", "scale": {"type": "utc", "domain": [1579305600000, 2005776000000]}, "axis": {"orient": "bottom", "labels": false, "ticks": false, "grid": false, "domain": true, "domainColor": "#363a45", "title": null}},
  "x2": {"datum": {"year": 2033, "month": 7, "date": 16, "utc": true}},
  "y": {"datum": 10349, "type": "quantitative", "scale": {"domain": [3269, 10536], "nice": false, "zero": false}, "axis": {"orient": "right", "values": [3400,3600,3800,4000,4200,4400,4600,4800,5000,5200,5400,5600,5800,6000,6200,6400,6600,6800,7000,7200,7400,7600,7800,8000,8200,8400,8600,8800,9000,9200,9400,9600,9800,10000,10200], "format": ",.2f", "labelAlign": "center", "labelPadding": -36, "ticks": false, "domain": false, "grid": false, "title": null, "labelColor": "#131722", "labelFontSize": 13, "labelOverlap": false, "labelBound": false, "labelFlush": false}},
  "y2": {"datum": 10503}
 }},
{"data": {"values": [{}]}, "mark": {"type": "text", "text": "USD", "align": "center", "baseline": "middle", "fontSize": 12, "color": "#131722"},
 "encoding": {
  "x": {"datum": {"year": 2033, "month": 4, "date": 18, "utc": true}, "type": "temporal", "scale": {"type": "utc", "domain": [1579305600000, 2005776000000]}, "axis": {"orient": "bottom", "labels": false, "ticks": false, "grid": false, "domain": true, "domainColor": "#363a45", "title": null}},
  "y": {"datum": 10426, "type": "quantitative", "scale": {"domain": [3269, 10536], "nice": false, "zero": false}, "axis": {"orient": "right", "values": [3400,3600,3800,4000,4200,4400,4600,4800,5000,5200,5400,5600,5800,6000,6200,6400,6600,6800,7000,7200,7400,7600,7800,8000,8200,8400,8600,8800,9000,9200,9400,9600,9800,10000,10200], "format": ",.2f", "labelAlign": "center", "labelPadding": -36, "ticks": false, "domain": false, "grid": false, "title": null, "labelColor": "#131722", "labelFontSize": 13, "labelOverlap": false, "labelBound": false, "labelFlush": false}}
 }},
{"data": {"values": [{}]}, "mark": {"type": "rect", "fill": "#ff0000", "cornerRadius": 2},
 "encoding": {
  "x": {"datum": {"year": 2033, "month": 2, "date": 28, "utc": true}, "type": "temporal", "scale": {"type": "utc", "domain": [1579305600000, 2005776000000]}, "axis": {"orient": "bottom", "labels": false, "ticks": false, "grid": false, "domain": true, "domainColor": "#363a45", "title": null}},
  "x2": {"datum": {"year": 2033, "month": 7, "date": 4, "utc": true}},
  "y": {"datum": 6489, "type": "quantitative", "scale": {"domain": [3269, 10536], "nice": false, "zero": false}, "axis": {"orient": "right", "values": [3400,3600,3800,4000,4200,4400,4600,4800,5000,5200,5400,5600,5800,6000,6200,6400,6600,6800,7000,7200,7400,7600,7800,8000,8200,8400,8600,8800,9000,9200,9400,9600,9800,10000,10200], "format": ",.2f", "labelAlign": "center", "labelPadding": -36, "ticks": false, "domain": false, "grid": false, "title": null, "labelColor": "#131722", "labelFontSize": 13, "labelOverlap": false, "labelBound": false, "labelFlush": false}},
  "y2": {"datum": 6616}
 }},
{"data": {"values": [{}]}, "mark": {"type": "text", "text": "6,552.52", "align": "center", "baseline": "middle", "fontSize": 13, "fontWeight": "bold", "color": "#ffffff"},
 "encoding": {
  "x": {"datum": {"year": 2033, "month": 5, "date": 2, "utc": true}, "type": "temporal", "scale": {"type": "utc", "domain": [1579305600000, 2005776000000]}, "axis": {"orient": "bottom", "labels": false, "ticks": false, "grid": false, "domain": true, "domainColor": "#363a45", "title": null}},
  "y": {"datum": 6552.52, "type": "quantitative", "scale": {"domain": [3269, 10536], "nice": false, "zero": false}, "axis": {"orient": "right", "values": [3400,3600,3800,4000,4200,4400,4600,4800,5000,5200,5400,5600,5800,6000,6200,6400,6600,6800,7000,7200,7400,7600,7800,8000,8200,8400,8600,8800,9000,9200,9400,9600,9800,10000,10200], "format": ",.2f", "labelAlign": "center", "labelPadding": -36, "ticks": false, "domain": false, "grid": false, "title": null, "labelColor": "#131722", "labelFontSize": 13, "labelOverlap": false, "labelBound": false, "labelFlush": false}}
 }}
]
},
{
"width": 2457,
"height": 59,
"title": {"text": "TradingView", "orient": "bottom", "anchor": "start", "color": "#ffffff", "fontSize": 16, "fontWeight": "bold", "offset": 10, "dx": 25},
"layer": [
{"data": {"values": [{}]}, "mark": {"type": "rect", "fill": "#e4e4fc", "clip": true},
 "encoding": {
  "x": {"datum": {"year": 2019, "month": 12, "date": 1, "utc": true}, "type": "temporal", "scale": {"type": "utc", "domain": [1579305600000, 2005776000000]}, "axis": {"orient": "bottom", "values": [{"year":2020,"month":7,"date":1,"utc":true},{"year":2021,"month":1,"date":1,"utc":true},{"year":2021,"month":7,"date":1,"utc":true},{"year":2022,"month":1,"date":1,"utc":true},{"year":2022,"month":7,"date":1,"utc":true},{"year":2023,"month":1,"date":1,"utc":true},{"year":2023,"month":7,"date":1,"utc":true},{"year":2024,"month":1,"date":1,"utc":true},{"year":2024,"month":7,"date":1,"utc":true},{"year":2025,"month":1,"date":1,"utc":true},{"year":2025,"month":7,"date":1,"utc":true},{"year":2026,"month":1,"date":1,"utc":true},{"year":2026,"month":7,"date":1,"utc":true},{"year":2027,"month":1,"date":1,"utc":true},{"year":2027,"month":7,"date":1,"utc":true},{"year":2028,"month":1,"date":1,"utc":true},{"year":2028,"month":7,"date":1,"utc":true},{"year":2029,"month":1,"date":1,"utc":true},{"year":2029,"month":7,"date":1,"utc":true},{"year":2030,"month":1,"date":1,"utc":true},{"year":2030,"month":7,"date":1,"utc":true},{"year":2031,"month":1,"date":1,"utc":true},{"year":2031,"month":7,"date":1,"utc":true},{"year":2032,"month":1,"date":1,"utc":true},{"year":2032,"month":7,"date":1,"utc":true},{"year":2033,"month":1,"date":1,"utc":true}], "labelExpr": "utcmonth(datum.value) === 0 ? utcFormat(datum.value, '%Y') : 'Jul'", "labelFontWeight": {"condition": {"test": "utcmonth(datum.value) === 0", "value": "bold"}, "value": "normal"}, "ticks": false, "labelPadding": -22, "domain": false, "grid": false, "title": null, "labelColor": "#131722", "labelFontSize": 13, "labelOverlap": false, "labelBound": false, "labelFlush": false}},
  "x2": {"datum": {"year": 2033, "month": 3, "date": 1, "utc": true}},
  "y": {"datum": 30, "type": "quantitative", "scale": {"domain": [-57.5, 90], "nice": false, "zero": false}, "axis": null},
  "y2": {"datum": 70}
 }},
{"data": {"name": "bars"}, "mark": {"type": "line", "color": "#0000ff", "strokeWidth": 2, "clip": true},
 "encoding": {
  "x": {"field": "d", "type": "temporal", "scale": {"type": "utc", "domain": [1579305600000, 2005776000000]}, "axis": {"orient": "bottom", "values": [{"year":2020,"month":7,"date":1,"utc":true},{"year":2021,"month":1,"date":1,"utc":true},{"year":2021,"month":7,"date":1,"utc":true},{"year":2022,"month":1,"date":1,"utc":true},{"year":2022,"month":7,"date":1,"utc":true},{"year":2023,"month":1,"date":1,"utc":true},{"year":2023,"month":7,"date":1,"utc":true},{"year":2024,"month":1,"date":1,"utc":true},{"year":2024,"month":7,"date":1,"utc":true},{"year":2025,"month":1,"date":1,"utc":true},{"year":2025,"month":7,"date":1,"utc":true},{"year":2026,"month":1,"date":1,"utc":true},{"year":2026,"month":7,"date":1,"utc":true},{"year":2027,"month":1,"date":1,"utc":true},{"year":2027,"month":7,"date":1,"utc":true},{"year":2028,"month":1,"date":1,"utc":true},{"year":2028,"month":7,"date":1,"utc":true},{"year":2029,"month":1,"date":1,"utc":true},{"year":2029,"month":7,"date":1,"utc":true},{"year":2030,"month":1,"date":1,"utc":true},{"year":2030,"month":7,"date":1,"utc":true},{"year":2031,"month":1,"date":1,"utc":true},{"year":2031,"month":7,"date":1,"utc":true},{"year":2032,"month":1,"date":1,"utc":true},{"year":2032,"month":7,"date":1,"utc":true},{"year":2033,"month":1,"date":1,"utc":true}], "labelExpr": "utcmonth(datum.value) === 0 ? utcFormat(datum.value, '%Y') : 'Jul'", "labelFontWeight": {"condition": {"test": "utcmonth(datum.value) === 0", "value": "bold"}, "value": "normal"}, "ticks": false, "labelPadding": -22, "domain": false, "grid": false, "title": null, "labelColor": "#131722", "labelFontSize": 13, "labelOverlap": false, "labelBound": false, "labelFlush": false}},
  "y": {"field": "r", "type": "quantitative", "scale": {"domain": [-57.5, 90], "nice": false, "zero": false}, "axis": null}
 }},
{"data": {"name": "marker"}, "mark": {"type": "rule", "color": "#0000ff", "strokeWidth": 2.5},
 "encoding": {
  "x": {"field": "d", "type": "temporal", "scale": {"type": "utc", "domain": [1579305600000, 2005776000000]}, "axis": {"orient": "bottom", "values": [{"year":2020,"month":7,"date":1,"utc":true},{"year":2021,"month":1,"date":1,"utc":true},{"year":2021,"month":7,"date":1,"utc":true},{"year":2022,"month":1,"date":1,"utc":true},{"year":2022,"month":7,"date":1,"utc":true},{"year":2023,"month":1,"date":1,"utc":true},{"year":2023,"month":7,"date":1,"utc":true},{"year":2024,"month":1,"date":1,"utc":true},{"year":2024,"month":7,"date":1,"utc":true},{"year":2025,"month":1,"date":1,"utc":true},{"year":2025,"month":7,"date":1,"utc":true},{"year":2026,"month":1,"date":1,"utc":true},{"year":2026,"month":7,"date":1,"utc":true},{"year":2027,"month":1,"date":1,"utc":true},{"year":2027,"month":7,"date":1,"utc":true},{"year":2028,"month":1,"date":1,"utc":true},{"year":2028,"month":7,"date":1,"utc":true},{"year":2029,"month":1,"date":1,"utc":true},{"year":2029,"month":7,"date":1,"utc":true},{"year":2030,"month":1,"date":1,"utc":true},{"year":2030,"month":7,"date":1,"utc":true},{"year":2031,"month":1,"date":1,"utc":true},{"year":2031,"month":7,"date":1,"utc":true},{"year":2032,"month":1,"date":1,"utc":true},{"year":2032,"month":7,"date":1,"utc":true},{"year":2033,"month":1,"date":1,"utc":true}], "labelExpr": "utcmonth(datum.value) === 0 ? utcFormat(datum.value, '%Y') : 'Jul'", "labelFontWeight": {"condition": {"test": "utcmonth(datum.value) === 0", "value": "bold"}, "value": "normal"}, "ticks": false, "labelPadding": -22, "domain": false, "grid": false, "title": null, "labelColor": "#131722", "labelFontSize": 13, "labelOverlap": false, "labelBound": false, "labelFlush": false}},
  "y": {"datum": 90, "type": "quantitative", "scale": {"domain": [-57.5, 90], "nice": false, "zero": false}, "axis": null},
  "y2": {"datum": 12.5}
 }},
{"data": {"values": [{}]}, "mark": {"type": "rect", "fill": "#0000ff"},
 "encoding": {
  "x": {"datum": {"year": 2027, "month": 6, "date": 28, "utc": true}, "type": "temporal", "scale": {"type": "utc", "domain": [1579305600000, 2005776000000]}, "axis": {"orient": "bottom", "values": [{"year":2020,"month":7,"date":1,"utc":true},{"year":2021,"month":1,"date":1,"utc":true},{"year":2021,"month":7,"date":1,"utc":true},{"year":2022,"month":1,"date":1,"utc":true},{"year":2022,"month":7,"date":1,"utc":true},{"year":2023,"month":1,"date":1,"utc":true},{"year":2023,"month":7,"date":1,"utc":true},{"year":2024,"month":1,"date":1,"utc":true},{"year":2024,"month":7,"date":1,"utc":true},{"year":2025,"month":1,"date":1,"utc":true},{"year":2025,"month":7,"date":1,"utc":true},{"year":2026,"month":1,"date":1,"utc":true},{"year":2026,"month":7,"date":1,"utc":true},{"year":2027,"month":1,"date":1,"utc":true},{"year":2027,"month":7,"date":1,"utc":true},{"year":2028,"month":1,"date":1,"utc":true},{"year":2028,"month":7,"date":1,"utc":true},{"year":2029,"month":1,"date":1,"utc":true},{"year":2029,"month":7,"date":1,"utc":true},{"year":2030,"month":1,"date":1,"utc":true},{"year":2030,"month":7,"date":1,"utc":true},{"year":2031,"month":1,"date":1,"utc":true},{"year":2031,"month":7,"date":1,"utc":true},{"year":2032,"month":1,"date":1,"utc":true},{"year":2032,"month":7,"date":1,"utc":true},{"year":2033,"month":1,"date":1,"utc":true}], "labelExpr": "utcmonth(datum.value) === 0 ? utcFormat(datum.value, '%Y') : 'Jul'", "labelFontWeight": {"condition": {"test": "utcmonth(datum.value) === 0", "value": "bold"}, "value": "normal"}, "ticks": false, "labelPadding": -22, "domain": false, "grid": false, "title": null, "labelColor": "#131722", "labelFontSize": 13, "labelOverlap": false, "labelBound": false, "labelFlush": false}},
  "x2": {"datum": {"year": 2028, "month": 1, "date": 5, "utc": true}},
  "y": {"datum": -47.5, "type": "quantitative", "scale": {"domain": [-57.5, 90], "nice": false, "zero": false}, "axis": null},
  "y2": {"datum": 12.5}
 }},
{"data": {"values": [{}]}, "mark": {"type": "text", "text": "Mon 04 Oct '27", "align": "center", "baseline": "middle", "fontSize": 13, "color": "#ffffff"},
 "encoding": {
  "x": {"datum": {"year": 2027, "month": 10, "date": 4, "utc": true}, "type": "temporal", "scale": {"type": "utc", "domain": [1579305600000, 2005776000000]}, "axis": {"orient": "bottom", "values": [{"year":2020,"month":7,"date":1,"utc":true},{"year":2021,"month":1,"date":1,"utc":true},{"year":2021,"month":7,"date":1,"utc":true},{"year":2022,"month":1,"date":1,"utc":true},{"year":2022,"month":7,"date":1,"utc":true},{"year":2023,"month":1,"date":1,"utc":true},{"year":2023,"month":7,"date":1,"utc":true},{"year":2024,"month":1,"date":1,"utc":true},{"year":2024,"month":7,"date":1,"utc":true},{"year":2025,"month":1,"date":1,"utc":true},{"year":2025,"month":7,"date":1,"utc":true},{"year":2026,"month":1,"date":1,"utc":true},{"year":2026,"month":7,"date":1,"utc":true},{"year":2027,"month":1,"date":1,"utc":true},{"year":2027,"month":7,"date":1,"utc":true},{"year":2028,"month":1,"date":1,"utc":true},{"year":2028,"month":7,"date":1,"utc":true},{"year":2029,"month":1,"date":1,"utc":true},{"year":2029,"month":7,"date":1,"utc":true},{"year":2030,"month":1,"date":1,"utc":true},{"year":2030,"month":7,"date":1,"utc":true},{"year":2031,"month":1,"date":1,"utc":true},{"year":2031,"month":7,"date":1,"utc":true},{"year":2032,"month":1,"date":1,"utc":true},{"year":2032,"month":7,"date":1,"utc":true},{"year":2033,"month":1,"date":1,"utc":true}], "labelExpr": "utcmonth(datum.value) === 0 ? utcFormat(datum.value, '%Y') : 'Jul'", "labelFontWeight": {"condition": {"test": "utcmonth(datum.value) === 0", "value": "bold"}, "value": "normal"}, "ticks": false, "labelPadding": -22, "domain": false, "grid": false, "title": null, "labelColor": "#131722", "labelFontSize": 13, "labelOverlap": false, "labelBound": false, "labelFlush": false}},
  "y": {"datum": -17.5, "type": "quantitative", "scale": {"domain": [-57.5, 90], "nice": false, "zero": false}, "axis": null}
 }},
{"data": {"values": [{}]}, "mark": {"type": "text", "text": "RSI (14, close)", "align": "left", "baseline": "middle", "fontSize": 13, "color": "#131722"},
 "encoding": {
  "x": {"datum": {"year": 2020, "month": 2, "date": 8, "utc": true}, "type": "temporal", "scale": {"type": "utc", "domain": [1579305600000, 2005776000000]}, "axis": {"orient": "bottom", "values": [{"year":2020,"month":7,"date":1,"utc":true},{"year":2021,"month":1,"date":1,"utc":true},{"year":2021,"month":7,"date":1,"utc":true},{"year":2022,"month":1,"date":1,"utc":true},{"year":2022,"month":7,"date":1,"utc":true},{"year":2023,"month":1,"date":1,"utc":true},{"year":2023,"month":7,"date":1,"utc":true},{"year":2024,"month":1,"date":1,"utc":true},{"year":2024,"month":7,"date":1,"utc":true},{"year":2025,"month":1,"date":1,"utc":true},{"year":2025,"month":7,"date":1,"utc":true},{"year":2026,"month":1,"date":1,"utc":true},{"year":2026,"month":7,"date":1,"utc":true},{"year":2027,"month":1,"date":1,"utc":true},{"year":2027,"month":7,"date":1,"utc":true},{"year":2028,"month":1,"date":1,"utc":true},{"year":2028,"month":7,"date":1,"utc":true},{"year":2029,"month":1,"date":1,"utc":true},{"year":2029,"month":7,"date":1,"utc":true},{"year":2030,"month":1,"date":1,"utc":true},{"year":2030,"month":7,"date":1,"utc":true},{"year":2031,"month":1,"date":1,"utc":true},{"year":2031,"month":7,"date":1,"utc":true},{"year":2032,"month":1,"date":1,"utc":true},{"year":2032,"month":7,"date":1,"utc":true},{"year":2033,"month":1,"date":1,"utc":true}], "labelExpr": "utcmonth(datum.value) === 0 ? utcFormat(datum.value, '%Y') : 'Jul'", "labelFontWeight": {"condition": {"test": "utcmonth(datum.value) === 0", "value": "bold"}, "value": "normal"}, "ticks": false, "labelPadding": -22, "domain": false, "grid": false, "title": null, "labelColor": "#131722", "labelFontSize": 13, "labelOverlap": false, "labelBound": false, "labelFlush": false}},
  "y": {"datum": 45, "type": "quantitative", "scale": {"domain": [-57.5, 90], "nice": false, "zero": false}, "axis": null}
 }},
{"data": {"values": [{}]}, "mark": {"type": "rect", "fill": "#0000ff", "cornerRadius": 2},
 "encoding": {
  "x": {"datum": {"year": 2033, "month": 3, "date": 3, "utc": true}, "type": "temporal", "scale": {"type": "utc", "domain": [1579305600000, 2005776000000]}, "axis": {"orient": "bottom", "values": [{"year":2020,"month":7,"date":1,"utc":true},{"year":2021,"month":1,"date":1,"utc":true},{"year":2021,"month":7,"date":1,"utc":true},{"year":2022,"month":1,"date":1,"utc":true},{"year":2022,"month":7,"date":1,"utc":true},{"year":2023,"month":1,"date":1,"utc":true},{"year":2023,"month":7,"date":1,"utc":true},{"year":2024,"month":1,"date":1,"utc":true},{"year":2024,"month":7,"date":1,"utc":true},{"year":2025,"month":1,"date":1,"utc":true},{"year":2025,"month":7,"date":1,"utc":true},{"year":2026,"month":1,"date":1,"utc":true},{"year":2026,"month":7,"date":1,"utc":true},{"year":2027,"month":1,"date":1,"utc":true},{"year":2027,"month":7,"date":1,"utc":true},{"year":2028,"month":1,"date":1,"utc":true},{"year":2028,"month":7,"date":1,"utc":true},{"year":2029,"month":1,"date":1,"utc":true},{"year":2029,"month":7,"date":1,"utc":true},{"year":2030,"month":1,"date":1,"utc":true},{"year":2030,"month":7,"date":1,"utc":true},{"year":2031,"month":1,"date":1,"utc":true},{"year":2031,"month":7,"date":1,"utc":true},{"year":2032,"month":1,"date":1,"utc":true},{"year":2032,"month":7,"date":1,"utc":true},{"year":2033,"month":1,"date":1,"utc":true}], "labelExpr": "utcmonth(datum.value) === 0 ? utcFormat(datum.value, '%Y') : 'Jul'", "labelFontWeight": {"condition": {"test": "utcmonth(datum.value) === 0", "value": "bold"}, "value": "normal"}, "ticks": false, "labelPadding": -22, "domain": false, "grid": false, "title": null, "labelColor": "#131722", "labelFontSize": 13, "labelOverlap": false, "labelBound": false, "labelFlush": false}},
  "x2": {"datum": {"year": 2033, "month": 5, "date": 26, "utc": true}},
  "y": {"datum": 42.5, "type": "quantitative", "scale": {"domain": [-57.5, 90], "nice": false, "zero": false}, "axis": null},
  "y2": {"datum": 82.5}
 }},
{"data": {"values": [{}]}, "mark": {"type": "text", "text": "61.83", "align": "center", "baseline": "middle", "fontSize": 13, "fontWeight": "bold", "color": "#ffffff"},
 "encoding": {
  "x": {"datum": {"year": 2033, "month": 4, "date": 14, "utc": true}, "type": "temporal", "scale": {"type": "utc", "domain": [1579305600000, 2005776000000]}, "axis": {"orient": "bottom", "values": [{"year":2020,"month":7,"date":1,"utc":true},{"year":2021,"month":1,"date":1,"utc":true},{"year":2021,"month":7,"date":1,"utc":true},{"year":2022,"month":1,"date":1,"utc":true},{"year":2022,"month":7,"date":1,"utc":true},{"year":2023,"month":1,"date":1,"utc":true},{"year":2023,"month":7,"date":1,"utc":true},{"year":2024,"month":1,"date":1,"utc":true},{"year":2024,"month":7,"date":1,"utc":true},{"year":2025,"month":1,"date":1,"utc":true},{"year":2025,"month":7,"date":1,"utc":true},{"year":2026,"month":1,"date":1,"utc":true},{"year":2026,"month":7,"date":1,"utc":true},{"year":2027,"month":1,"date":1,"utc":true},{"year":2027,"month":7,"date":1,"utc":true},{"year":2028,"month":1,"date":1,"utc":true},{"year":2028,"month":7,"date":1,"utc":true},{"year":2029,"month":1,"date":1,"utc":true},{"year":2029,"month":7,"date":1,"utc":true},{"year":2030,"month":1,"date":1,"utc":true},{"year":2030,"month":7,"date":1,"utc":true},{"year":2031,"month":1,"date":1,"utc":true},{"year":2031,"month":7,"date":1,"utc":true},{"year":2032,"month":1,"date":1,"utc":true},{"year":2032,"month":7,"date":1,"utc":true},{"year":2033,"month":1,"date":1,"utc":true}], "labelExpr": "utcmonth(datum.value) === 0 ? utcFormat(datum.value, '%Y') : 'Jul'", "labelFontWeight": {"condition": {"test": "utcmonth(datum.value) === 0", "value": "bold"}, "value": "normal"}, "ticks": false, "labelPadding": -22, "domain": false, "grid": false, "title": null, "labelColor": "#131722", "labelFontSize": 13, "labelOverlap": false, "labelBound": false, "labelFlush": false}},
  "y": {"datum": 61.83, "type": "quantitative", "scale": {"domain": [-57.5, 90], "nice": false, "zero": false}, "axis": null}
 }}
]
}
],
"config": {"view": {"fill": "#ffffff", "stroke": null}, "font": "Roboto", "concat": {"spacing": 0}}
}
